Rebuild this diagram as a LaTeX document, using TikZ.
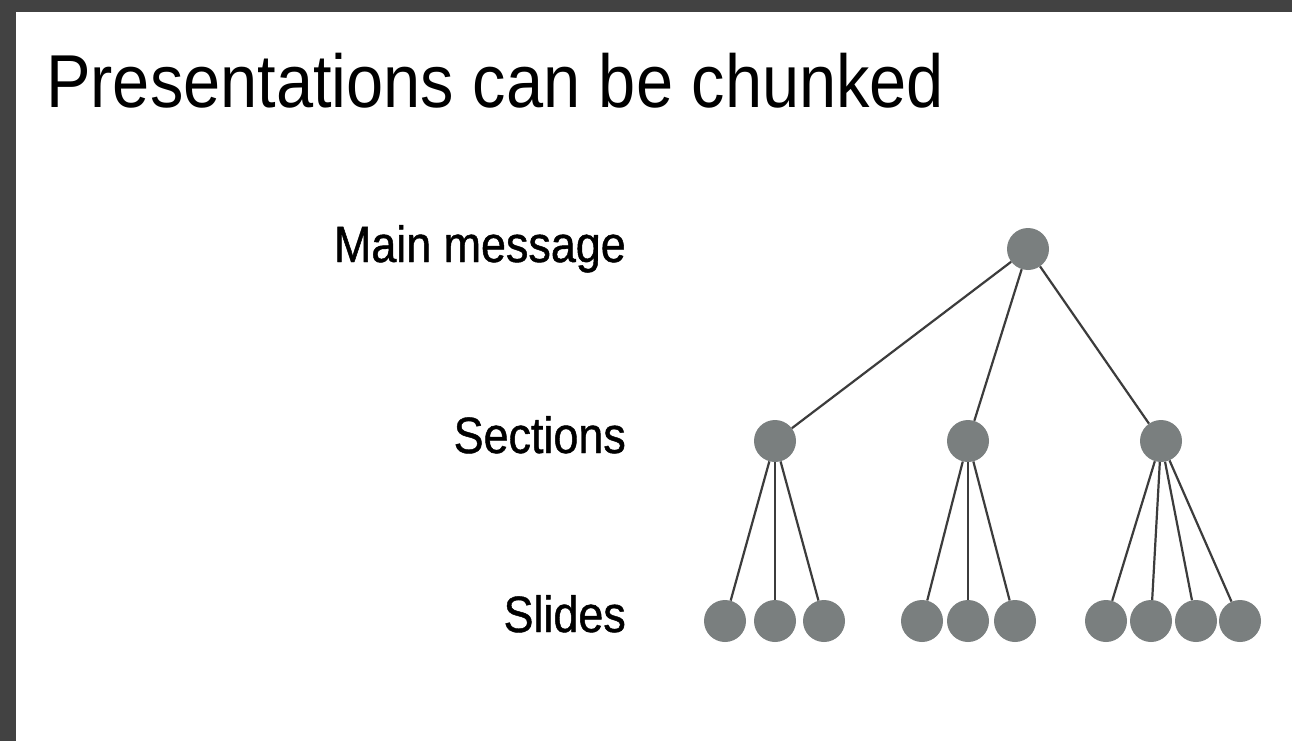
\documentclass[tikz,border=0pt]{standalone}
\usepackage{fontspec}
\setmainfont[FakeStretch=0.89]{Liberation Sans}
\newfontfamily\levelfont[FakeStretch=0.88,FakeBold=0.9]{Liberation Sans}

\definecolor{framegray}{HTML}{424242}
\definecolor{dotgray}{HTML}{7A7F7F}
\definecolor{linegray}{HTML}{3C3C3C}

\begin{document}
\begin{tikzpicture}[x=1pt,y=-1pt,
  dot/.style={circle,fill=dotgray,minimum size=42pt,inner sep=0pt},
  linksty/.style={draw=linegray,line width=2.2pt},
  levelsty/.style={anchor=base east,inner sep=0pt,font=\levelfont\fontsize{51}{56}\selectfont}]
  \fill[framegray] (0,0) rectangle (1292,741);
  \fill[white] (16,12) rectangle (1292,741);

  \node[anchor=base west,inner sep=0pt,font=\fontsize{75}{82}\selectfont] (title) at (46,107) {Presentations can be chunked};

  \node[levelsty] (lmain) at (626,262) {Main message};
  \node[levelsty] (lsec) at (626,453) {Sections};
  \node[levelsty] (lslide) at (626,632) {Slides};

  \node[dot] (main) at (1028,249) {};
  \foreach \x/\n in {775/sec1,968/sec2,1161/sec3} {
    \node[dot] (\n) at (\x,441) {};
    \draw[linksty] (main) -- (\n);
  }

  \foreach \x/\n/\p in {725/a1/sec1,775/a2/sec1,824/a3/sec1,
    922/b1/sec2,968/b2/sec2,1015/b3/sec2,
    1106/c1/sec3,1151/c2/sec3,1196/c3/sec3,1240/c4/sec3} {
    \node[dot] (\n) at (\x,621) {};
    \draw[linksty] (\p) -- (\n);
  }
\end{tikzpicture}
\end{document}
